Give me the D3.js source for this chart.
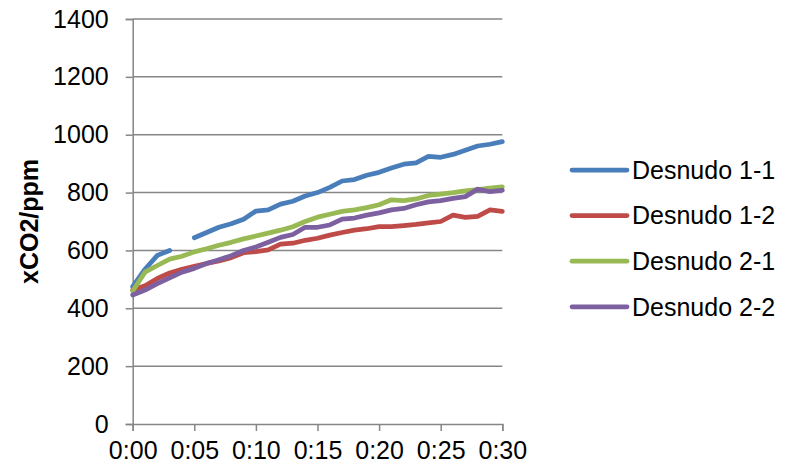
<!DOCTYPE html>
<html>
<head>
<meta charset="utf-8">
<script src="https://cdn.jsdelivr.net/npm/d3@7"></script>
<style>
  html, body { margin: 0; padding: 0; background: #fff; }
  svg { display: block; font-family: "Liberation Sans", Arial, sans-serif; }
</style>
</head>
<body>
<svg id="chart" width="797" height="471"></svg>
<script>
// Elapsed time in minutes (0:00 .. 0:30)
const minutes = d3.range(0, 31);

const seriesNames = ["Desnudo 1-1", "Desnudo 1-2", "Desnudo 2-1", "Desnudo 2-2"];
const seriesColors = ["#4A7EBB", "#BE4B48", "#98B954", "#7D60A0"];

// xCO2 readings (ppm); null = no reading
const desnudo11 = [475, 535, 583, 600, null, 644, 662, 680, 692, 708, 736, 740, 760, 770, 788,
                   800, 818, 840, 845, 860, 870, 885, 898, 903, 925, 922, 932, 946, 961, 967, 976];
const desnudo12 = [463, 478, 503, 522, 535, 545, 555, 564, 575, 592, 596, 602, 622, 625, 635,
                   642, 653, 662, 670, 675, 682, 682, 686, 690, 695, 700, 722, 714, 718, 740, 735];
const desnudo21 = [460, 525, 548, 570, 580, 595, 606, 618, 628, 640, 650, 660, 670, 682, 700,
                   715, 725, 735, 740, 748, 758, 775, 772, 778, 790, 795, 800, 806, 810, 815, 820];
const desnudo22 = [446, 463, 485, 505, 525, 538, 555, 568, 582, 600, 612, 628, 645, 655, 680,
                   680, 688, 708, 712, 722, 730, 740, 745, 758, 768, 772, 780, 786, 812, 803, 808];

const yTicks = [0, 200, 400, 600, 800, 1000, 1200, 1400];
const xTicks = [0, 5, 10, 15, 20, 25, 30];

const allSeries = [desnudo11, desnudo12, desnudo21, desnudo22];

const svg = d3.select("#chart");
const plot = { left: 132.7, right: 502.3, top: 19, bottom: 424 };

const x = d3.scaleLinear().domain([0, 30]).range([plot.left, plot.right]);
const y = d3.scaleLinear().domain([0, 1400]).range([plot.bottom, plot.top]);

const gridColor = "#868686";
const fontSize = 25;
const fontFamily = "Liberation Sans, Arial, sans-serif";

// horizontal gridlines
svg.append("g")
  .selectAll("line")
  .data(yTicks.filter(d => d > 0))
  .join("line")
  .attr("x1", plot.left).attr("x2", plot.right)
  .attr("y1", d => y(d)).attr("y2", d => y(d))
  .attr("stroke", gridColor).attr("stroke-width", 1.5);

// y axis
const yAxis = svg.append("g")
  .attr("transform", `translate(${plot.left},0)`)
  .call(d3.axisLeft(y).tickValues(yTicks).tickSize(7).tickPadding(17).tickFormat(d3.format("d")));
yAxis.select(".domain").attr("stroke", gridColor).attr("stroke-width", 1.5);
yAxis.selectAll(".tick line").attr("stroke", gridColor).attr("stroke-width", 1.5);
yAxis.selectAll(".tick text")
  .attr("font-size", fontSize).attr("font-family", fontFamily)
  .attr("fill", "#000");

// x axis
const fmtTime = m => `${Math.floor(m / 60)}:${String(m % 60).padStart(2, "0")}`;
const xAxis = svg.append("g")
  .attr("transform", `translate(0,${plot.bottom})`)
  .call(d3.axisBottom(x).tickValues(xTicks).tickSize(7).tickPadding(10).tickFormat(fmtTime));
xAxis.select(".domain").attr("stroke", gridColor).attr("stroke-width", 1.5);
xAxis.selectAll(".tick line").attr("stroke", gridColor).attr("stroke-width", 1.5);
xAxis.selectAll(".tick text")
  .attr("font-size", fontSize).attr("font-family", fontFamily)
  .attr("fill", "#000");

// y axis title
svg.append("text")
  .attr("transform", `translate(38,${(plot.top + plot.bottom) / 2}) rotate(-90)`)
  .attr("text-anchor", "middle")
  .attr("font-family", fontFamily)
  .attr("font-size", fontSize).attr("font-weight", "bold")
  .text("xCO2/ppm");

// series lines
const line = d3.line()
  .defined(d => d.v != null)
  .x(d => x(d.t))
  .y(d => y(d.v));

svg.append("g")
  .selectAll("path")
  .data(allSeries)
  .join("path")
  .attr("d", vals => line(vals.map((v, i) => ({ t: minutes[i], v }))))
  .attr("fill", "none")
  .attr("stroke", (d, i) => seriesColors[i])
  .attr("stroke-width", 4.75)
  .attr("stroke-linejoin", "round")
  .attr("stroke-linecap", "round");

// legend
const legend = svg.append("g")
  .selectAll("g")
  .data(seriesNames)
  .join("g")
  .attr("transform", (d, i) => `translate(572,${170 + i * 45.6})`);
legend.append("line")
  .attr("x1", 0).attr("x2", 55)
  .attr("stroke", (d, i) => seriesColors[i])
  .attr("stroke-width", 4.75)
  .attr("stroke-linecap", "round");
legend.append("text")
  .attr("x", 60).attr("dy", "0.35em")
  .attr("font-family", fontFamily)
  .attr("font-size", fontSize)
  .text(d => d);
</script>
</body>
</html>
